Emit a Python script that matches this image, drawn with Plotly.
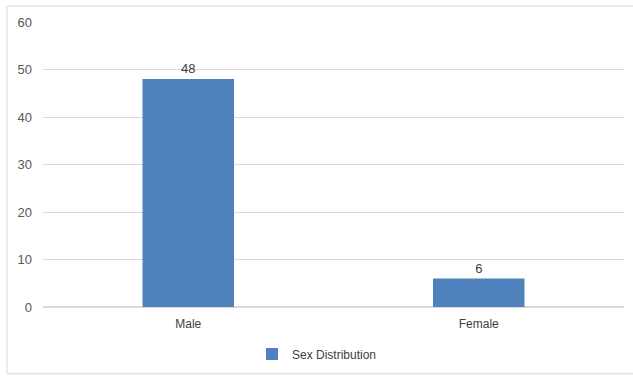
import plotly.graph_objects as go

categories = ["Male", "Female"]
values = [48, 6]
series_name = "Sex Distribution"
y_ticks = [0, 10, 20, 30, 40, 50, 60]

W, H = 633, 376
L, R, T, B = 43, 9, 22, 68
pw, ph = W - L - R, H - T - B

fig = go.Figure()
fig.add_trace(go.Bar(
    x=categories, y=values, name=series_name,
    marker=dict(color="#4f81bd", line=dict(width=0)),
    width=0.315,
    text=[str(v) for v in values], textposition="outside",
    textfont=dict(color="#404040", size=13),
    cliponaxis=False,
    showlegend=True,
))

def px_x(p):
    return (p - L) / pw

def px_y(p):
    return (H - B - p) / ph

fig.add_shape(type="rect", xref="paper", yref="paper",
              x0=px_x(7), x1=px_x(640), y0=px_y(6), y1=px_y(375),
              line=dict(color="#d9d9d9", width=1), fillcolor="rgba(0,0,0,0)", layer="below")

fig.update_layout(
    width=W, height=H,
    margin=dict(l=L, r=R, t=T, b=B),
    paper_bgcolor="white", plot_bgcolor="white",
    font=dict(family="Liberation Sans, Arial, sans-serif", size=13, color="#595959"),
    bargap=0.685,
    xaxis=dict(showgrid=False, showline=True, linecolor="#d9d9d9", linewidth=1,
               ticks="", tickfont=dict(size=12, color="#404040"), ticklabelstandoff=6),
    yaxis=dict(range=[0, 60], tickvals=y_ticks, showgrid=True, gridcolor="#d9d9d9",
               zeroline=True, zerolinecolor="#d9d9d9", showline=False, ticks="",
               tickfont=dict(size=13, color="#595959"), ticklabelstandoff=10),
    legend=dict(orientation="h", x=px_x(317), xanchor="center", y=px_y(354), yanchor="middle",
                font=dict(size=12, color="#404040"), itemwidth=30),
)

fig.write_html("out.html")
